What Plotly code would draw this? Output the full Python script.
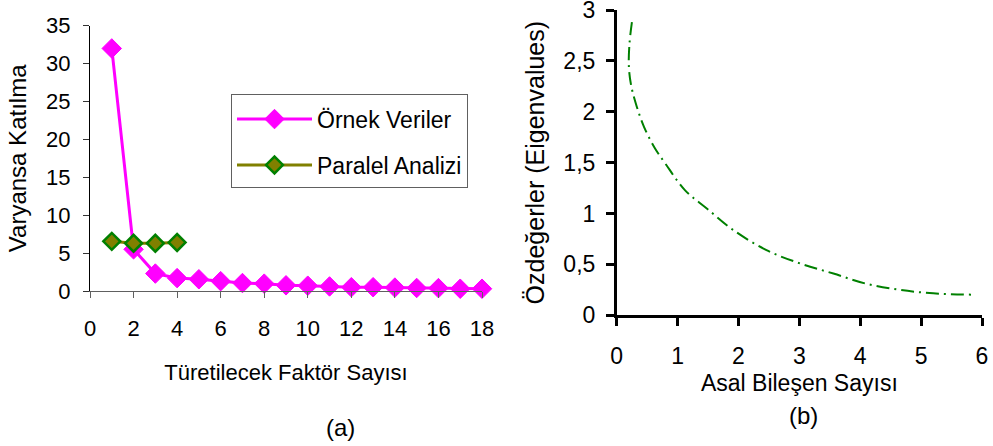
import plotly.graph_objects as go

# (a) scree plot data
factor_no = list(range(1, 19))
sample_eigen = [32.0, 5.5, 2.3, 1.7, 1.55, 1.3, 1.05, 0.97, 0.75, 0.7,
                0.6, 0.5, 0.5, 0.45, 0.4, 0.38, 0.3, 0.3]
parallel_no = [1, 2, 3, 4]
parallel_eigen = [6.55, 6.3, 6.3, 6.4]

# (b) eigenvalue curve
comp_x = [0.25, 0.21, 0.20, 0.24, 0.33, 0.45, 0.62, 0.80, 1.12, 1.48,
          1.91, 2.46, 3.01, 3.56, 4.10, 4.65, 5.20, 5.83]
comp_y = [2.88, 2.67, 2.44, 2.25, 2.05, 1.85, 1.65, 1.49, 1.23, 1.05,
          0.84, 0.64, 0.51, 0.41, 0.31, 0.25, 0.216, 0.203]

left_xticks = list(range(0, 19, 2))
left_yticks = list(range(0, 36, 5))
right_xticks = [0, 1, 2, 3, 4, 5, 6]
right_yticks = [0, 0.5, 1, 1.5, 2, 2.5, 3]
right_yticktext = ["0", "0,5", "1", "1,5", "2", "2,5", "3"]

FONT = "Liberation Sans, Arial, sans-serif"

fig = go.Figure()

fig.add_trace(go.Scatter(
    x=factor_no, y=sample_eigen, name="Örnek Veriler",
    mode="lines+markers", legendgroup="a1",
    line=dict(color="#FF00FF", width=3),
    marker=dict(symbol="diamond", size=15, color="#FF00FF",
                line=dict(color="#FF00FF", width=1)),
    xaxis="x", yaxis="y", cliponaxis=False,
))
fig.add_trace(go.Scatter(
    x=parallel_no, y=parallel_eigen, name="Paralel Analizi",
    mode="lines+markers", legendgroup="a2",
    line=dict(color="#808000", width=3),
    marker=dict(symbol="diamond", size=13, color="#808000",
                line=dict(color="#008000", width=2.5)),
    xaxis="x", yaxis="y", cliponaxis=False,
))
fig.add_trace(go.Scatter(
    x=comp_x, y=comp_y, mode="lines", showlegend=False,
    line=dict(color="#008000", width=2, dash="13px,5px,2px,5px",
              shape="spline", smoothing=1.0),
    xaxis="x2", yaxis="y2",
))

W, H = 993, 446

def px_x(p):
    return p / W

def px_y(p):
    return 1 - p / H

left_axis = dict(showline=True, linewidth=1,
                 ticks="outside", ticklen=6,
                 showgrid=False, zeroline=False, automargin=False,
                 ticklabeloverflow="allow",
                 tickfont=dict(size=22, color="black", family=FONT))
right_axis = dict(showline=True, linecolor="black", linewidth=2.5,
                  ticks="outside", ticklen=8, tickwidth=2.5, tickcolor="black",
                  showgrid=False, zeroline=False, automargin=False,
                  ticklabeloverflow="allow",
                  tickfont=dict(size=23, color="black", family=FONT))

fig.update_layout(
    width=W, height=H,
    margin=dict(l=0, r=0, t=0, b=0),
    paper_bgcolor="white", plot_bgcolor="white",
    font=dict(family=FONT, color="black"),
    xaxis=dict(**left_axis, linecolor="#606060", tickcolor="#606060",
               domain=[px_x(90), px_x(482)], range=[0, 18],
               tickvals=left_xticks, anchor="y", ticklabelstandoff=12,
               title=dict(text="Türetilecek Faktör Sayısı",
                          font=dict(size=22), standoff=24)),
    yaxis=dict(**left_axis, linecolor="black", tickcolor="#333333",
               domain=[px_y(291), px_y(25.7)], range=[0, 35],
               tickvals=left_yticks, anchor="x", ticklabelstandoff=8,
               title=dict(text="Varyansa Katılma",
                          font=dict(size=24), standoff=12)),
    xaxis2=dict(**right_axis, domain=[px_x(616.7), px_x(982)], range=[0, 6],
                tickvals=right_xticks, anchor="y2", ticklabelstandoff=10,
                title=dict(text="Asal Bileşen Sayısı",
                           font=dict(size=23), standoff=8)),
    yaxis2=dict(**right_axis, domain=[px_y(315.3), px_y(10)], range=[0, 3],
                tickvals=right_yticks, ticktext=right_yticktext, anchor="x2",
                ticklabelstandoff=6,
                title=dict(text="Özdeğerler (Eigenvalues)",
                           font=dict(size=25), standoff=12)),
    legend=dict(x=px_x(231), y=px_y(94), xanchor="left", yanchor="top",
                bordercolor="#606060", borderwidth=1, bgcolor="white",
                font=dict(size=23, color="black", family=FONT),
                title=dict(text=" ", font=dict(size=2)),
                tracegroupgap=13, itemwidth=75,
                traceorder="grouped"),
    showlegend=True,
    annotations=[
        dict(text="(a)", x=px_x(340), y=px_y(427), xref="paper", yref="paper",
             xanchor="center", yanchor="middle", showarrow=False,
             font=dict(size=24, color="black", family=FONT)),
        dict(text="(b)", x=px_x(803), y=px_y(415), xref="paper", yref="paper",
             xanchor="center", yanchor="middle", showarrow=False,
             font=dict(size=24, color="black", family=FONT)),
    ],
)

fig.write_html("out.html")
